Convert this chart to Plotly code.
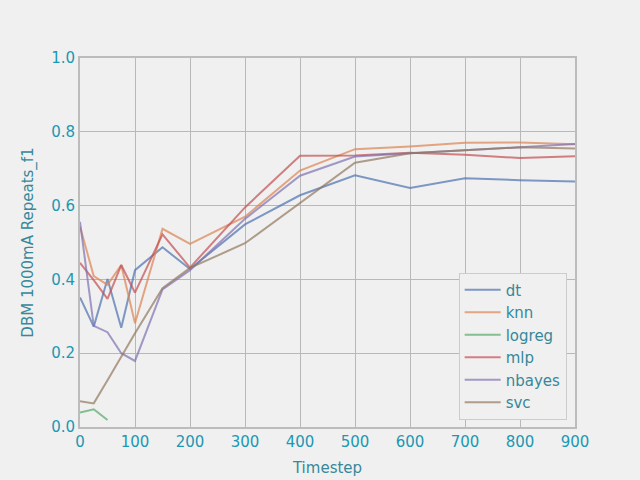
import plotly.graph_objects as go

timesteps = [0, 25, 50, 75, 100, 150, 200, 300, 400, 500, 600, 700, 800, 900]

dt = [0.351, 0.272, 0.401, 0.269, 0.425, 0.487, 0.428, 0.549, 0.628, 0.682, 0.648, 0.674, 0.669, 0.665]
knn = [0.543, 0.409, 0.385, 0.439, 0.281, 0.537, 0.496, 0.570, 0.695, 0.753, 0.760, 0.770, 0.771, 0.766]
logreg = [0.039, 0.048, 0.019]
mlp = [0.445, 0.398, 0.347, 0.439, 0.364, 0.522, 0.432, 0.595, 0.735, 0.736, 0.743, 0.738, 0.729, 0.734]
nbayes = [0.556, 0.274, 0.257, 0.200, 0.179, 0.373, 0.425, 0.564, 0.681, 0.733, 0.742, 0.749, 0.758, 0.767]
svc = [0.070, 0.064, 0.127, 0.190, 0.254, 0.376, 0.431, 0.498, 0.606, 0.716, 0.742, 0.749, 0.758, 0.755]

series = [
    ("dt", dt, "#4C72B0"),
    ("knn", knn, "#DD8452"),
    ("logreg", logreg, "#55A868"),
    ("mlp", mlp, "#C44E52"),
    ("nbayes", nbayes, "#8172B3"),
    ("svc", svc, "#937860"),
]

tick_col = "#1a98b4"
label_col = "#36889a"

fig = go.Figure()
for name, vals, col in series:
    fig.add_trace(go.Scatter(
        x=timesteps[:len(vals)], y=vals, name=name, mode="lines",
        line=dict(color=col, width=2), opacity=0.7,
    ))

axis_common = dict(
    showgrid=True, gridcolor="#b8b8b8", gridwidth=1.3,
    showline=True, linecolor="#bcbcbc", linewidth=2, mirror=True,
    zeroline=False, ticks="", automargin=False,
    tickfont=dict(color=tick_col, size=15),
)

fig.update_layout(
    width=640, height=480,
    paper_bgcolor="#f0f0f0", plot_bgcolor="#f0f0f0",
    font=dict(family="DejaVu Sans", color=label_col),
    margin=dict(l=80, r=65, t=58, b=53),
    xaxis=dict(range=[0, 900], tickvals=list(range(0, 1000, 100)),
               title=dict(text="Timestep", font=dict(size=15, color=label_col), standoff=12),
               **axis_common),
    yaxis=dict(range=[0, 1.0], tickvals=[0, 0.2, 0.4, 0.6, 0.8, 1.0], tickformat=".1f",
               title=dict(text="DBM 1000mA Repeats_f1", font=dict(size=15, color=label_col), standoff=14),
               **axis_common),
    legend=dict(x=0.765, y=0.02, xanchor="left", yanchor="bottom",
                bgcolor="#f0f0f0", bordercolor="#cccccc", borderwidth=1,
                font=dict(size=15, color=label_col), itemwidth=36,
                tracegroupgap=0),
    showlegend=True,
)

# page body margin off so the figure sits at the window corner
fig.write_html("out.html", config={"displayModeBar": False},
               post_script="document.body.style.margin='0';document.body.style.background='#f0f0f0';")
